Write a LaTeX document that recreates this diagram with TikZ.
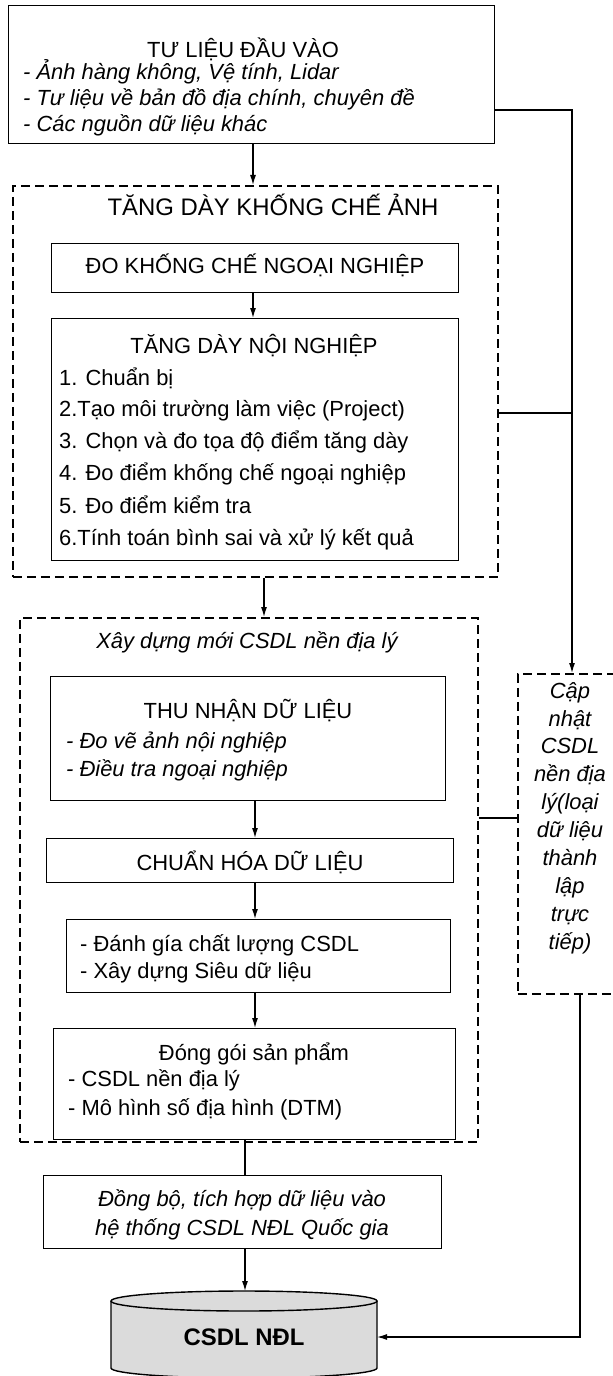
\documentclass[tikz,border=0pt]{standalone}
\usepackage{fontspec}
\setmainfont{Liberation Sans}
\usetikzlibrary{arrows.meta}
\begin{document}
\begin{tikzpicture}[x=1bp,y=1bp,
  box/.style={draw, line width=1.4bp, inner sep=0, anchor=north west},
  dbox/.style={draw, line width=1.6bp, dash pattern=on 9bp off 5bp, inner sep=0, anchor=north west},
  txt/.style={inner sep=0, font=\fontsize{22}{26}\selectfont},
  itxt/.style={inner sep=0, font=\fontsize{22}{26}\selectfont\itshape},
  arr/.style={line width=1.2bp, -{Latex[length=10bp,width=6bp]}},
  con/.style={line width=1.2bp}]
\useasboundingbox (0,0) rectangle (613,-1376);
% ---- boxes
\node[box, minimum width=486bp, minimum height=138bp] (in) at (8,-5) {};
\node[dbox, minimum width=485bp, minimum height=391bp] (tang) at (12,-185) {};
\node[box, minimum width=407bp, minimum height=49bp] (do) at (51,-243) {};
\node[box, minimum width=407bp, minimum height=242bp] (noi) at (51,-318) {};
\node[dbox, minimum width=458bp, minimum height=524bp] (xd) at (19,-617) {};
\node[box, minimum width=395bp, minimum height=124bp] (thu) at (50,-676) {};
\node[box, minimum width=407bp, minimum height=44bp] (chuan) at (46,-838) {};
\node[box, minimum width=384bp, minimum height=73bp] (dg) at (66,-919) {};
\node[box, minimum width=402bp, minimum height=111bp] (dong) at (53,-1028) {};
\node[box, minimum width=398bp, minimum height=73bp] (dongbo) at (43,-1175) {};
\node[dbox, minimum width=106bp, minimum height=320bp] (cap) at (517,-673) {};
% ---- cylinder
\fill[gray!28] (111,-1301) -- (111,-1368) arc[start angle=180,end angle=360,x radius=133,y radius=10] -- (377,-1301) arc[start angle=0,end angle=180,x radius=133,y radius=10] -- cycle;
\draw[line width=1.4bp] (111,-1301) -- (111,-1368) arc[start angle=180,end angle=360,x radius=133,y radius=10] -- (377,-1301);
\draw[line width=1.4bp] (244,-1301) ellipse[x radius=133, y radius=10];
\node[inner sep=0, anchor=base, font=\fontsize{24}{28}\selectfont\bfseries] (db) at (244,-1345.5) {CSDL NĐL};
\coordinate (dbtop) at (245,-1291);
\coordinate (dbr) at (377,-1337);
% ---- texts
\node[txt, anchor=base] (t0) at (243,-58) {TƯ LIỆU ĐẦU VÀO};
\node[itxt, anchor=base west] (t1) at (23,-80) {- Ảnh hàng không, Vệ tính, Lidar};
\node[itxt, anchor=base west] (t2) at (23,-106) {- Tư liệu về bản đồ địa chính, chuyên đề};
\node[itxt, anchor=base west] (t3) at (23,-132) {- Các nguồn dữ liệu khác};
\node[inner sep=0, anchor=base, font=\fontsize{24}{28}\selectfont] (tt) at (273,-215.5) {TĂNG DÀY KHỐNG CHẾ ẢNH};
\node[txt, anchor=base] (dot) at (255,-274) {ĐO KHỐNG CHẾ NGOẠI NGHIỆP};
\node[txt, anchor=base] (noit) at (254,-353) {TĂNG DÀY NỘI NGHIỆP};
\node[txt, anchor=base west] (n1) at (59,-385) {1. Chuẩn bị};
\node[txt, anchor=base west] (n2) at (59,-416) {2.Tạo môi trường làm việc (Project)};
\node[txt, anchor=base west] (n3) at (59,-448) {3. Chọn và đo tọa độ điểm tăng dày};
\node[txt, anchor=base west] (n4) at (59,-480) {4. Đo điểm khống chế ngoại nghiệp};
\node[txt, anchor=base west] (n5) at (59,-513) {5. Đo điểm kiểm tra};
\node[txt, anchor=base west] (n6) at (59,-545) {6.Tính toán bình sai và xử lý kết quả};
\node[itxt, anchor=base] (xdt) at (247,-648) {Xây dựng mới CSDL nền địa lý};
\node[txt, anchor=base] (thut) at (248,-718) {THU NHẬN DỮ LIỆU};
\node[itxt, anchor=base west] (th1) at (66,-748) {- Đo vẽ ảnh nội nghiệp};
\node[itxt, anchor=base west] (th2) at (66,-776) {- Điều tra ngoại nghiệp};
\node[txt, anchor=base] (chuant) at (250,-870) {CHUẨN HÓA DỮ LIỆU};
\node[txt, anchor=base west] (dg1) at (80,-951) {- Đánh gía chất lượng CSDL};
\node[txt, anchor=base west] (dg2) at (80,-978) {- Xây dựng Siêu dữ liệu};
\node[txt, anchor=base] (dongt) at (254,-1060) {Đóng gói sản phẩm};
\node[txt, anchor=base west] (do1) at (68,-1086) {- CSDL nền địa lý};
\node[txt, anchor=base west] (do2) at (68,-1115) {- Mô hình số địa hình (DTM)};
\node[itxt, anchor=base] (db1) at (242,-1206) {Đồng bộ, tích hợp dữ liệu vào};
\node[itxt, anchor=base] (db2) at (242,-1235) {hệ thống CSDL NĐL Quốc gia};
\node[inner sep=0, align=center, font=\fontsize{22}{28}\selectfont\itshape] (capt) at (570,-818)
  {Cập\\nhật\\CSDL\\nền địa\\lý(loại\\dữ liệu\\thành\\lập\\trực\\tiếp)};
% ---- helper coordinates
\coordinate (xa) at (253,0);
\coordinate (xb) at (264,0);
\coordinate (xc) at (255,0);
\coordinate (xd0) at (245,0);
\coordinate (r1) at (572,-110);
\coordinate (r2) at (572,-413);
\coordinate (jn) at (0,-818);
\coordinate (r3) at (580,-1337);
% ---- connectors
\draw[arr] (in.south -| xa) -- (tang.north -| xa);
\draw[arr] (do.south -| xa) -- (noi.north -| xa);
\draw[arr] (in.east |- r1) -- (r1) -- (cap.north -| r1);
\draw[con] (tang.east |- r2) -- (r2);
\draw[arr] (tang.south -| xb) -- (xd.north -| xb);
\draw[arr] (thu.south -| xc) -- (chuan.north -| xc);
\draw[arr] (chuan.south -| xc) -- (dg.north -| xc);
\draw[arr] (dg.south -| xc) -- (dong.north -| xc);
\draw[con] (xd.east |- jn) -- (cap.west |- jn);
\draw[con] (dong.south -| xd0) -- (dongbo.north -| xd0);
\draw[arr] (dongbo.south -| xd0) -- (dbtop);
\draw[arr] (cap.south -| r3) -- (r3) -- (dbr);
\end{tikzpicture}
\end{document}
